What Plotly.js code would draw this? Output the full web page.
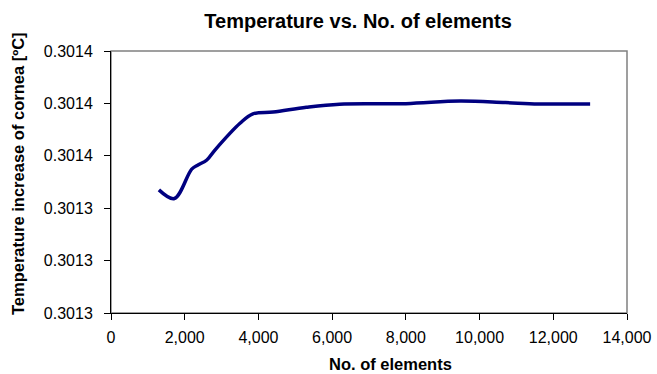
<!DOCTYPE html>
<html>
<head>
<meta charset="utf-8">
<script src="https://cdn.plot.ly/plotly-3.0.1.min.js"></script>
<style>html,body{margin:0;padding:0;background:#fff;}#chart{width:657px;height:374px;}</style>
</head>
<body>
<div id="chart"></div>
<script>
// Data
const elements = [1300, 1720, 2190, 2360, 2600, 2820, 3500, 3850, 4400, 5300, 6200, 8000, 9470, 10700, 11600, 13000];
const temperature = [0.301347, 0.3013437, 0.3013549, 0.3013565, 0.3013584, 0.3013622, 0.3013724, 0.3013760, 0.3013767, 0.3013785, 0.3013797, 0.3013799, 0.3013809, 0.3013803, 0.3013798, 0.3013798];
const yTickVals = [0.30130, 0.30132, 0.30134, 0.30136, 0.30138, 0.30140];
const yTickText = ["0.3013", "0.3013", "0.3013", "0.3014", "0.3014", "0.3014"];
const xTickVals = [0, 2000, 4000, 6000, 8000, 10000, 12000, 14000];
const xTickText = ["0", "2,000", "4,000", "6,000", "8,000", "10,000", "12,000", "14,000"];
const chartTitle = "Temperature vs. No. of elements";
const xTitle = "No. of elements";
const yTitle = "Temperature increase of cornea [ºC]";

const font = "Liberation Sans, Arial, sans-serif";
const trace = {
  x: elements, y: temperature, type: "scatter", mode: "lines",
  line: {color: "#000080", width: 3.5, shape: "spline", smoothing: 1},
  hoverinfo: "skip"
};
const layout = {
  width: 657, height: 374,
  margin: {l: 111, r: 30, t: 51, b: 61},
  paper_bgcolor: "#fff", plot_bgcolor: "#fff",
  showlegend: false,
  font: {family: font, color: "#000", size: 16},
  title: {text: "<b>" + chartTitle + "</b>", font: {family: font, size: 20, color: "#000"}, x: 0.545, xanchor: "center", y: 0.943, yanchor: "middle"},
  xaxis: {
    range: [0, 14000], tickvals: xTickVals, ticktext: xTickText,
    ticks: "outside", ticklen: 6, tickcolor: "#000", tickwidth: 1,
    showline: true, linecolor: "#000", linewidth: 1, showgrid: false, zeroline: false,
    tickfont: {family: font, size: 16, color: "#000"},
    ticklabelstandoff: 4
  },
  yaxis: {
    range: [0.30130, 0.30140], tickvals: yTickVals, ticktext: yTickText,
    ticks: "outside", ticklen: 6, tickcolor: "#000", tickwidth: 1,
    showline: true, linecolor: "#000", linewidth: 1, showgrid: false, zeroline: false,
    tickfont: {family: font, size: 16, color: "#000"},
    ticklabelstandoff: 8
  },
  annotations: [
    {text: "<b>" + xTitle + "</b>", xref: "paper", yref: "paper", x: 0.5426, y: -0.1947, xanchor: "center", yanchor: "middle", showarrow: false, font: {family: font, size: 16.5, color: "#000"}},
    {text: "<b>" + yTitle + "</b>", xref: "paper", yref: "paper", x: -0.1802, y: 0.5305, xanchor: "center", yanchor: "middle", textangle: -90, showarrow: false, font: {family: font, size: 16.5, color: "#000"}}
  ],
  shapes: [{type: "rect", xref: "paper", yref: "paper", x0: 0, x1: 1, y0: 0, y1: 1, line: {color: "#808080", width: 1.5}, layer: "below"}]
};
Plotly.newPlot("chart", [trace], layout, {displayModeBar: false, staticPlot: true});
</script>
</body>
</html>
